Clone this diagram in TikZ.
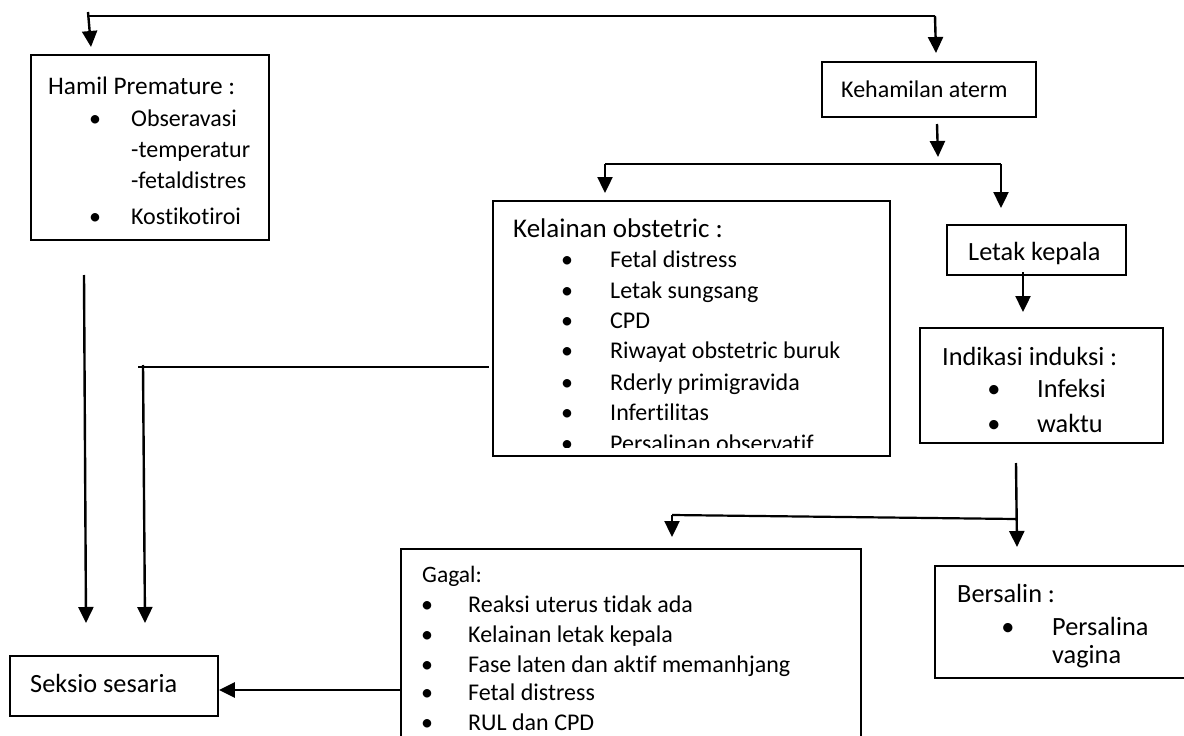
\documentclass[tikz,border=0pt]{standalone}
\usepackage{fontspec}
\setmainfont{Carlito}[Ligatures=NoCommon]
\usetikzlibrary{arrows.meta}
\begin{document}
\begin{tikzpicture}[x=1pt,y=-1pt,
  box/.style={draw,line width=1.9pt,rectangle,inner sep=0pt,anchor=north west},
  txt/.style={inner sep=0pt,anchor=base west,font=\fontsize{24}{28}\selectfont},
  big/.style={font=\fontsize{26.3}{30}\selectfont},
  bul/.style={inner sep=0pt,anchor=base,font=\fontsize{24}{28}\selectfont},
  conn/.style={line width=2.2pt},
  arr/.style={line width=2.4pt,-{Triangle[width=15pt,length=16pt]}}]
\clip (0,0) rectangle (1184,736);
\fill[white] (0,0) rectangle (1184,736);

% ---------- boxes ----------
\node[box,minimum width=238pt,minimum height=185pt] (hamil) at (30,54) {};
\node[box,minimum width=214pt,minimum height=55pt] (keh) at (821,61) {};
\node[box,minimum width=397pt,minimum height=255pt] (kel) at (492,200) {};
\node[box,minimum width=179pt,minimum height=50pt] (letak) at (946,224) {};
\node[box,minimum width=243pt,minimum height=115pt] (indik) at (919,327) {};
\node[box,minimum width=460pt,minimum height=200pt] (gagal) at (400,548) {};
\node[box,minimum width=260pt,minimum height=112pt] (bers) at (934,565) {};
\node[box,minimum width=208pt,minimum height=60pt] (seksio) at (9,655) {};

% ---------- texts ----------
\node[txt,font=\fontsize{25.3}{30}\selectfont] (hp0) at (48,94) {Hamil Premature :};
\node[bul] (hpb1) at (95,126) {•};
\node[txt] (hp1) at (131,126) {Obseravasi};
\node[txt] (hp2) at (131,157) {-temperatur};
\node[txt] (hp3) at (131,188) {-fetaldistres};
\node[bul] (hpb4) at (95,224) {•};
\node[txt] (hp4) at (131,224) {Kostikotiroi};

\node[txt] (kehT) at (841,97) {Kehamilan aterm};

\begin{scope}
\clip (492,200) rectangle (889,447);
\node[txt,font=\fontsize{27}{30}\selectfont] (ke0) at (513,237) {Kelainan obstetric :};
\node[bul] (keb1) at (567,267) {•}; \node[txt] (ke1) at (610,267) {Fetal distress};
\node[bul] (keb2) at (567,298) {•}; \node[txt] (ke2) at (610,298) {Letak sungsang};
\node[bul] (keb3) at (567,328) {•}; \node[txt] (ke3) at (610,328) {CPD};
\node[bul] (keb4) at (567,358) {•}; \node[txt] (ke4) at (610,358) {Riwayat obstetric buruk};
\node[bul] (keb5) at (567,390) {•}; \node[txt] (ke5) at (610,390) {Rderly primigravida};
\node[bul] (keb6) at (567,420) {•}; \node[txt] (ke6) at (610,420) {Infertilitas};
\node[bul] (keb7) at (567,451) {•}; \node[txt] (ke7) at (610,451) {Persalinan observatif};
\end{scope}

\node[txt,big] (letT) at (968,260) {Letak kepala};

\node[txt,big] (in0) at (942,365) {Indikasi induksi :};
\node[bul,big] (inb1) at (994,397) {•}; \node[txt,big] (in1) at (1037,397) {Infeksi};
\node[bul,big] (inb2) at (994,432) {•}; \node[txt,big] (in2) at (1037,432) {waktu};

\begin{scope}
\clip (400,548) rectangle (860,732);
\node[txt,font=\fontsize{23.5}{28}\selectfont] (ga0) at (422,582) {Gagal:};
\node[bul] (gab1) at (427,612) {•}; \node[txt] (ga1) at (468,612) {Reaksi uterus tidak ada};
\node[bul] (gab2) at (427,642) {•}; \node[txt] (ga2) at (468,642) {Kelainan letak kepala};
\node[bul] (gab3) at (427,672) {•}; \node[txt] (ga3) at (468,672) {Fase laten dan aktif memanhjang};
\node[bul] (gab4) at (427,700) {•}; \node[txt] (ga4) at (468,700) {Fetal distress};
\node[bul] (gab5) at (427,730) {•}; \node[txt] (ga5) at (468,730) {RUL dan CPD};
\end{scope}

\begin{scope}
\clip (934,565) rectangle (1184,668);
\node[txt,big] (be0) at (957,602) {Bersalin :};
\node[bul,big] (beb1) at (1008,635) {•}; \node[txt,big] (be1) at (1052,635) {Persalina};
\node[txt,big] (be2) at (1052,663) {vagina};
\end{scope}

\node[txt,big] (seT) at (30,692) {Seksio sesaria};

% ---------- connector points ----------
\coordinate (topLt) at (88,12);
\coordinate (topL) at (88,16);
\coordinate (topR) at (935,16);
\coordinate (aHam) at (91,47);
\coordinate (aKeh) at (936,53);
\coordinate (kd0) at (937,124);
\coordinate (kd1) at (938,157);
\coordinate (spL) at (605,164);
\coordinate (spR) at (1001,164);
\coordinate (aKel) at (605,193);
\coordinate (aLet) at (1001,208);
\coordinate (ld0) at (1023,272);
\coordinate (ld1) at (1023,312);
\coordinate (id0) at (1016,463);
\coordinate (id1) at (1017,547);
\coordinate (ihL) at (672,515);
\coordinate (ihR) at (1016,519);
\coordinate (aGag) at (672,537);
\coordinate (lv0) at (84,275);
\coordinate (lv1) at (86,623);
\coordinate (mv0) at (143,365);
\coordinate (mv1) at (145,623);
\coordinate (mhL) at (138,367);
\coordinate (mhR) at (489,367);

% ---------- connectors ----------
\draw[conn] (topL) -- (topR);
\draw[arr] (topLt) -- (aHam);
\draw[arr] (topR) -- (aKeh);
\draw[arr] (kd0) -- (kd1);
\draw[conn] (spL) -- (spR);
\draw[arr] (spL) -- (aKel);
\draw[arr] (spR) -- (aLet);
\draw[arr] (ld0) -- (ld1);
\draw[arr] (id0) -- (id1);
\draw[conn] (ihL) -- (ihR);
\draw[arr] (ihL) -- (aGag);
\draw[arr] (lv0) -- (lv1);
\draw[conn] (mhL) -- (mhR);
\draw[arr] (mv0) -- (mv1);
\draw[arr] (gagal.west |- 0,690) -- (seksio.east |- 0,690);
\end{tikzpicture}
\end{document}
